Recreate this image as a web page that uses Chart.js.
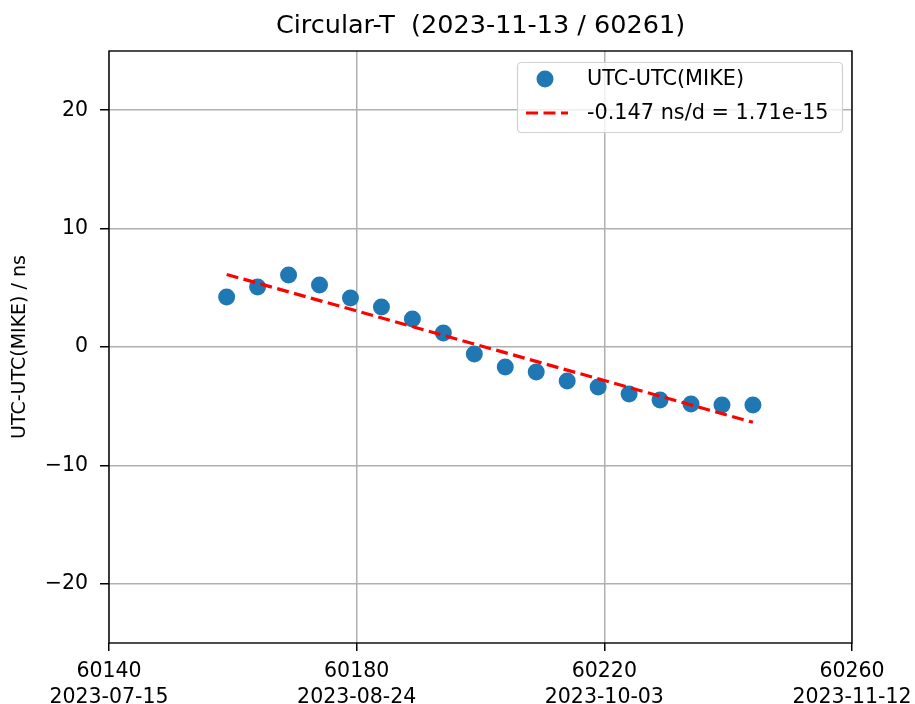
<!DOCTYPE html>
<html><head><meta charset="utf-8">
<script src="https://cdn.jsdelivr.net/npm/chart.js@4"></script>
<style>html,body{margin:0;padding:0;background:#fff}#wrap{width:915px;height:704px}</style>
</head><body><div id="wrap"><canvas id="c" width="915" height="704"></canvas></div>
<script>
const titleText = 'Circular-T  (2023-11-13 / 60261)';
const seriesLabel = 'UTC-UTC(MIKE)';
const trendLabel = '-0.147 ns/d = 1.71e-15';
const yAxisTitle = 'UTC-UTC(MIKE) / ns';
const mjd = [60159,60164,60169,60174,60179,60184,60189,60194,60199,60204,60209,60214,60219,60224,60229,60234,60239,60244];
const values = [4.22,5.06,6.08,5.23,4.14,3.38,2.36,1.18,-0.59,-1.69,-2.11,-2.87,-3.38,-3.97,-4.47,-4.81,-4.89,-4.89];
const trendX = [60159,60244];
const trendY = [6.13,-6.36];
const xTicks = [60140,60180,60220,60260];
const xTickDates = ['2023-07-15','2023-08-24','2023-10-03','2023-11-12'];
const yTicks = [-20,-10,0,10,20];

const FONT = 'DejaVu Sans';
const blue = '#1f77b4';

const frame = {
  id:'frame',
  afterDraw(chart){
    const {ctx, chartArea:a} = chart;
    ctx.save();
    ctx.fillStyle='#000'; ctx.font='25.5px "'+FONT+'"'; ctx.textAlign='center'; ctx.textBaseline='middle';
    ctx.fillText(titleText, (a.left+a.right)/2, 26);
    ctx.restore();
  },
  afterDatasetsDraw(chart){
    const {ctx, chartArea:a} = chart;
    ctx.save();
    ctx.strokeStyle='#000'; ctx.lineWidth=1.4;
    ctx.strokeRect(a.left, a.top, a.right-a.left, a.bottom-a.top);
    // legend
    const lx=517, ly=62, lw=325, lh=70;
    ctx.fillStyle='rgba(255,255,255,0.8)';
    ctx.strokeStyle='#d0d0d0'; ctx.lineWidth=1.2;
    ctx.beginPath();
    if (ctx.roundRect) ctx.roundRect(lx+0.5,ly+0.5,lw,lh,4); else ctx.rect(lx+0.5,ly+0.5,lw,lh);
    ctx.fill(); ctx.stroke();
    ctx.fillStyle=blue;
    ctx.beginPath(); ctx.arc(545,79,8.5,0,Math.PI*2); ctx.fill();
    ctx.strokeStyle='red'; ctx.lineWidth=3.2; ctx.setLineDash([12,5.5]);
    ctx.beginPath(); ctx.moveTo(526,113); ctx.lineTo(568,113); ctx.stroke();
    ctx.setLineDash([]);
    ctx.fillStyle='#000'; ctx.font='20.8px "'+FONT+'"'; ctx.textBaseline='middle'; ctx.textAlign='left';
    ctx.fillText(chart.data.datasets[0].label, 587, 80);
    ctx.fillText(chart.data.datasets[1].label, 587, 114);
    ctx.restore();
  }
};

new Chart(document.getElementById('c'), {
  type:'scatter',
  data:{datasets:[
    {label:seriesLabel, data:mjd.map((x,i)=>({x, y:values[i]})), backgroundColor:blue, borderColor:blue, pointRadius:8.5, pointHoverRadius:8.5, borderWidth:0, order:2},
    {label:trendLabel, type:'line', data:trendX.map((x,i)=>({x, y:trendY[i]})), borderColor:'red', borderWidth:3.2, borderDash:[12,5.5], pointRadius:0, fill:false, showLine:true, order:1}
  ]},
  options:{
    responsive:false, animation:false, devicePixelRatio:1,
    layout:{padding:{left:0,right:63,top:51,bottom:0}, autoPadding:false},
    plugins:{
      legend:{display:false}, tooltip:{enabled:false}, title:{display:false}
    },
    scales:{
      x:{type:'linear', min:60140, max:60260,
        afterBuildTicks(s){ s.ticks = xTicks.map(v=>({value:v})); },
        afterFit(s){ s.height = 61; s.paddingLeft = 0; s.paddingRight = 0; },
        ticks:{color:'#000', font:{family:FONT, size:20.5, lineHeight:1.25}, padding:8, maxRotation:0,
          callback(v){ const i = xTicks.indexOf(v); return i>=0 ? [String(v), xTickDates[i]] : ''; }},
        grid:{color:'#b0b0b0', lineWidth:1.5, tickColor:'#000', tickLength:8, drawTicks:true},
        border:{display:false}
      },
      y:{type:'linear', min:-25, max:25,
        afterBuildTicks(s){ s.ticks = yTicks.map(v=>({value:v})); },
        afterFit(s){ s.width = 109; s.paddingTop = 0; s.paddingBottom = 0; },
        ticks:{color:'#000', font:{family:FONT, size:20.5}, padding:12, callback(v){ return String(v).replace('-', '\u2212'); }},
        grid:{color:'#b0b0b0', lineWidth:1.5, tickColor:'#000', tickLength:9},
        border:{display:false},
        title:{display:true, text:yAxisTitle, color:'#000', font:{family:FONT, size:19}, padding:{top:9,bottom:4}}
      }
    }
  },
  plugins:[frame]
});
</script></body></html>
